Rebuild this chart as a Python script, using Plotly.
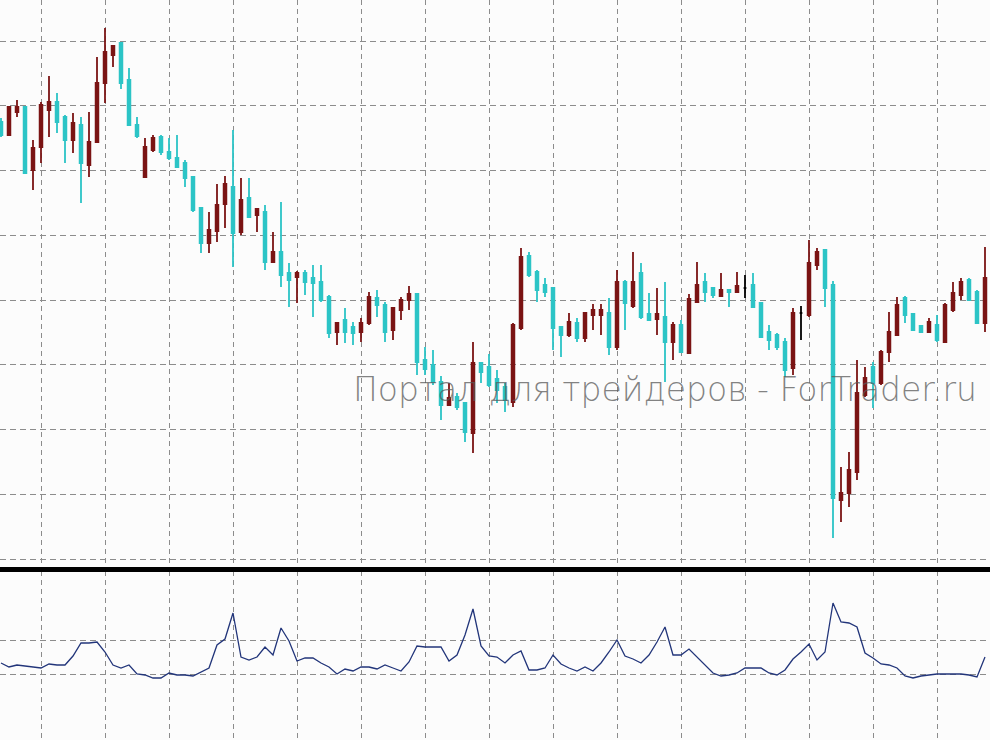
import plotly.graph_objects as go

# Price data (arbitrary point units), one candle per bar
opens = [478, 465, 488, 493, 430, 453, 490, 498, 483, 460, 475, 435, 458, 517, 545, 557, 520, 475, 423, 450,
         463, 448, 442, 437, 423, 392, 357, 369, 396, 413, 368, 402, 385, 388, 338, 348, 327, 323, 327, 322,
         318, 303, 268, 280, 273, 268, 277, 302, 295, 270, 290, 300, 306, 240, 235, 218, 195, 203, 197, 167,
         237, 233, 221, 213, 198, 272, 344, 328, 315, 312, 273, 265, 277, 262, 285, 285, 287, 253, 318, 294,
         327, 286, 281, 283, 258, 275, 247, 298, 318, 312, 304, 310, 308, 312, 315, 297, 268, 265, 258, 232,
         287, 285, 335, 350, 315, 100, 107, 128, 205, 233, 217, 248, 265, 302, 286, 274, 268, 275, 258, 290,
         305, 320, 308, 277]
highs = [482, 494, 500, 494, 460, 498, 524, 507, 485, 487, 483, 488, 543, 572, 555, 558, 532, 483, 462, 465,
         465, 462, 465, 440, 423, 393, 388, 416, 424, 470, 422, 422, 392, 395, 368, 398, 337, 329, 330, 335,
         335, 305, 278, 292, 278, 282, 308, 310, 298, 293, 303, 314, 306, 253, 250, 224, 217, 207, 198, 258,
         238, 246, 230, 217, 277, 352, 348, 330, 322, 313, 274, 287, 282, 288, 296, 296, 302, 330, 320, 348,
         337, 307, 312, 318, 278, 280, 306, 338, 327, 313, 327, 310, 328, 325, 327, 298, 275, 267, 262, 292,
         294, 360, 352, 350, 319, 133, 148, 240, 233, 238, 250, 288, 303, 304, 287, 274, 282, 285, 297, 318,
         322, 322, 310, 353]
lows = [463, 464, 483, 426, 410, 437, 463, 467, 437, 447, 397, 423, 457, 497, 533, 511, 474, 462, 423, 448,
        445, 440, 432, 413, 388, 347, 347, 358, 372, 333, 365, 382, 368, 330, 337, 313, 293, 297, 305, 283,
        298, 262, 255, 257, 255, 258, 275, 283, 258, 260, 280, 290, 225, 225, 215, 180, 195, 190, 158, 147,
        217, 213, 197, 188, 193, 270, 323, 298, 303, 250, 243, 263, 258, 258, 270, 265, 245, 250, 270, 292,
        281, 279, 265, 218, 240, 247, 247, 298, 298, 302, 303, 293, 307, 302, 293, 263, 250, 250, 223, 225,
        260, 283, 330, 293, 62, 78, 93, 120, 203, 192, 215, 238, 265, 277, 269, 268, 267, 258, 257, 288,
        300, 299, 276, 268]
closes = [465, 493, 493, 427, 452, 495, 498, 478, 460, 477, 437, 458, 517, 548, 554, 517, 475, 464, 453, 462,
          448, 442, 433, 422, 390, 357, 370, 395, 416, 367, 400, 383, 391, 338, 348, 325, 320, 327, 318, 317,
          300, 267, 277, 268, 267, 277, 303, 295, 268, 292, 300, 306, 238, 231, 218, 195, 202, 193, 168, 237,
          228, 215, 210, 200, 275, 343, 325, 310, 308, 272, 265, 278, 262, 287, 290, 290, 253, 318, 297, 318,
          283, 280, 286, 258, 275, 248, 301, 315, 308, 305, 310, 308, 314, 312, 293, 263, 260, 253, 230, 287,
          287, 337, 348, 312, 102, 107, 130, 207, 222, 217, 248, 268, 295, 285, 270, 268, 278, 260, 295, 307,
          318, 300, 277, 322]

# Volatility indicator shown in the lower window
indicator = [37, 33, 35, 34, 33, 32, 36, 35, 35, 44, 57, 57, 58, 48, 35, 32, 35, 26, 25, 22,
             22, 27, 25, 25, 24, 28, 32, 55, 61, 87, 43, 40, 43, 53, 45, 72, 59, 39, 42, 42,
             37, 33, 26, 31, 29, 33, 33, 31, 35, 32, 29, 38, 54, 53, 53, 53, 39, 45, 65, 91,
             54, 44, 43, 37, 45, 49, 30, 30, 32, 45, 36, 32, 29, 33, 29, 37, 48, 60, 44, 41,
             37, 45, 58, 73, 45, 45, 51, 43, 34, 27, 24, 25, 27, 32, 32, 32, 27, 25, 30, 41,
             48, 56, 40, 48, 97, 78, 77, 73, 47, 42, 36, 35, 32, 24, 22, 24, 25, 26, 26, 26,
             26, 25, 23, 43]

idx = list(range(len(opens)))
doji = [i for i in idx if opens[i] == closes[i]]
normal = [i for i in idx if opens[i] != closes[i]]

BULL = "#7b1414"
BEAR = "#2cc4c6"
GRID = "#8c8c8c"
LW = 1.8

fig = go.Figure()
fig.add_trace(go.Candlestick(
    x=normal,
    open=[opens[i] for i in normal], high=[highs[i] for i in normal],
    low=[lows[i] for i in normal], close=[closes[i] for i in normal],
    increasing=dict(line=dict(color=BULL, width=LW), fillcolor=BULL),
    decreasing=dict(line=dict(color=BEAR, width=LW), fillcolor=BEAR),
    whiskerwidth=0, showlegend=False, hoverinfo="skip",
    xaxis="x", yaxis="y"))
fig.add_trace(go.Candlestick(
    x=doji,
    open=[opens[i] for i in doji], high=[highs[i] for i in doji],
    low=[lows[i] for i in doji], close=[closes[i] for i in doji],
    increasing=dict(line=dict(color="#000000", width=LW), fillcolor="#000000"),
    decreasing=dict(line=dict(color="#000000", width=LW), fillcolor="#000000"),
    whiskerwidth=0, showlegend=False, hoverinfo="skip",
    xaxis="x", yaxis="y"))
fig.add_trace(go.Scatter(
    x=idx, y=indicator, mode="lines",
    line=dict(color="#22357a", width=1.3),
    showlegend=False, hoverinfo="skip",
    xaxis="x2", yaxis="y2"))

xcommon = dict(showticklabels=False, ticks="",
               showgrid=True, gridcolor=GRID, gridwidth=1, griddash="5px,4px",
               tick0=5, dtick=8, zeroline=False, showline=False,
               rangeslider=dict(visible=False), fixedrange=True)

fig.update_layout(
    width=990, height=740,
    margin=dict(l=0, r=0, t=0, b=0),
    paper_bgcolor="#fcfcfc", plot_bgcolor="#fcfcfc",
    boxmode="overlay", boxgap=0.52,
    xaxis=dict(domain=[0, 1], anchor="y", range=[-0.125, 123.625], **xcommon),
    xaxis2=dict(domain=[0, 1], anchor="y2", matches="x", **xcommon),
    yaxis=dict(domain=[(740 - 567) / 740, 1], range=[33, 600], showticklabels=False, ticks="",
               showgrid=True, gridcolor=GRID, gridwidth=1, griddash="6px,4px",
               tick0=41, dtick=64.75, zeroline=False, fixedrange=True),
    yaxis2=dict(domain=[0, (740 - 571) / 740], range=[-40, 129], showticklabels=False, ticks="",
                showgrid=True, gridcolor=GRID, gridwidth=1, griddash="6px,4px",
                tickmode="array", tickvals=[26, 60], zeroline=False, fixedrange=True),
    shapes=[dict(type="rect", xref="paper", yref="paper", x0=0, x1=1,
                 y0=(740 - 572) / 740, y1=(740 - 567) / 740,
                 fillcolor="#000000", line=dict(width=0), layer="above")],
    annotations=[dict(text="Портал для трейдеров - ForTrader.ru", xref="paper", yref="paper",
                      x=665 / 990, y=(740 - 390) / 740, xanchor="center", yanchor="middle",
                      showarrow=False,
                      font=dict(family="DejaVu Sans", size=33, color="rgba(90,90,90,0.75)", weight=200))],
)

fig.write_html("out.html", config={"displayModeBar": False},
               post_script="document.body.style.margin='0';document.body.style.overflow='hidden';")
